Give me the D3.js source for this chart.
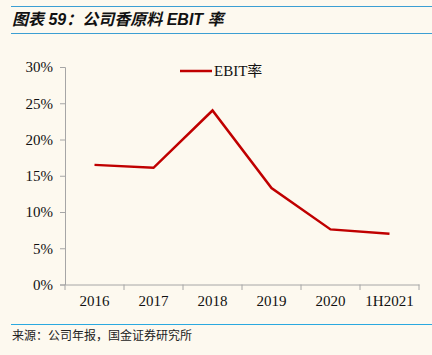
<!DOCTYPE html>
<html><head><meta charset="utf-8">
<script src="https://cdn.jsdelivr.net/npm/d3@7"></script>
<style>html,body{margin:0;padding:0;background:#fdf9ef;}svg{display:block;}</style>
</head><body>
<script>
const categories = ["2016","2017","2018","2019","2020","1H2021"];
const ebitRate = [0.165, 0.161, 0.240, 0.133, 0.076, 0.070];
const yTicks = [0, 0.05, 0.10, 0.15, 0.20, 0.25, 0.30];
const seriesName = "EBIT率";
const titleText = "图表 59：公司香原料 EBIT 率";
const sourceText = "来源：公司年报，国金证券研究所";

const W = 432, H = 355;
const svg = d3.select("body").append("svg").attr("width", W).attr("height", H);
svg.append("rect").attr("width", W).attr("height", H).attr("fill", "#fdf9ef");

// header lines
svg.append("line").attr("x1", 11).attr("x2", 432).attr("y1", 6.5).attr("y2", 6.5).attr("stroke", "#3c9fd3").attr("stroke-width", 1.2);
svg.append("line").attr("x1", 11).attr("x2", 432).attr("y1", 33.5).attr("y2", 33.5).attr("stroke", "#3c9fd3").attr("stroke-width", 1.2);
svg.append("text").attr("x", 12).attr("y", 25).text(titleText)
  .attr("font-family", "'Liberation Sans','Noto Sans CJK SC',sans-serif")
  .attr("font-style", "italic").attr("font-weight", "bold").attr("font-size", 16).attr("fill", "#111");

// footer
svg.append("line").attr("x1", 11).attr("x2", 432).attr("y1", 324.5).attr("y2", 324.5).attr("stroke", "#2aa9e0").attr("stroke-width", 1.2);
svg.append("text").attr("x", 12).attr("y", 340).text(sourceText)
  .attr("font-family", "'Noto Sans CJK SC',sans-serif").attr("font-size", 12).attr("fill", "#222");

const x = d3.scaleBand().domain(categories).range([65, 419]).padding(0);
const y = d3.scaleLinear().domain([0, 0.30]).range([284.5, 67]);

const axisColor = "#a6a6a6";
const yAxis = svg.append("g").attr("transform", "translate(65,0)")
  .call(d3.axisLeft(y).tickValues(yTicks).tickFormat(d3.format(".0%")).tickSize(5).tickPadding(7));
const xAxis = svg.append("g").attr("transform", "translate(0,284.5)")
  .call(d3.axisBottom(x).tickSize(0).tickPadding(11));
// x ticks at band boundaries
const bounds = categories.map(c => x(c)).concat([x.range()[1]]);
svg.append("g").selectAll("line").data(bounds).join("line")
  .attr("x1", d => d).attr("x2", d => d).attr("y1", 284.5).attr("y2", 290)
  .attr("stroke", axisColor);

[yAxis, xAxis].forEach(g => {
  g.selectAll(".domain").attr("stroke", axisColor);
  g.selectAll(".tick line").attr("stroke", axisColor);
  g.selectAll("text").attr("font-family", "'Liberation Serif','Times New Roman',serif")
    .attr("font-size", 15).attr("fill", "#111");
});

const line = d3.line().x((d, i) => x(categories[i]) + x.bandwidth() / 2).y(d => y(d));
svg.append("path").datum(ebitRate).attr("d", line).attr("fill", "none")
  .attr("stroke", "#c00000").attr("stroke-width", 2.5).attr("stroke-linejoin", "miter");

// legend
svg.append("line").attr("x1", 180).attr("x2", 212).attr("y1", 71).attr("y2", 71)
  .attr("stroke", "#c00000").attr("stroke-width", 2.5);
svg.append("text").attr("x", 214).attr("y", 76).text(seriesName)
  .attr("font-family", "'Liberation Serif','Noto Sans CJK SC',serif").attr("font-size", 15).attr("fill", "#111");
</script>
</body></html>
